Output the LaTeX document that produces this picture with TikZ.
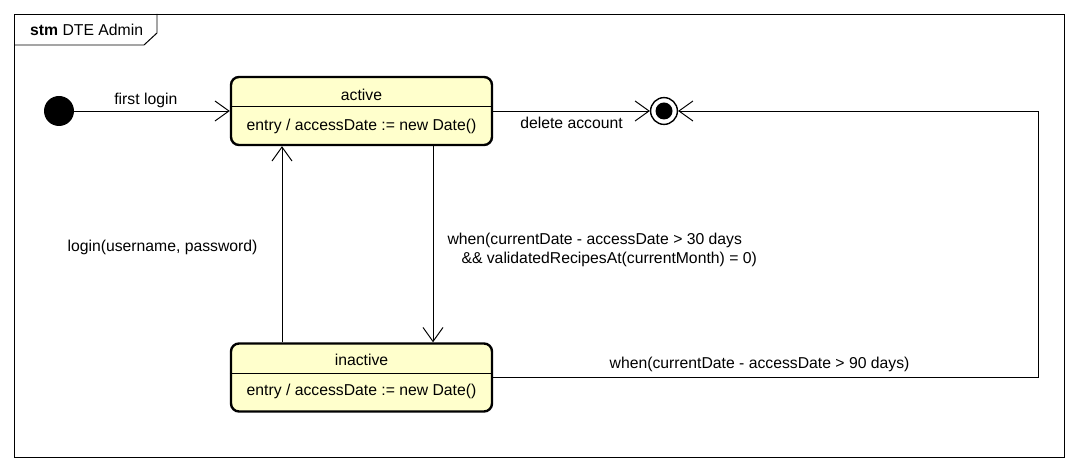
\documentclass[tikz,border=0pt]{standalone}
\usepackage{fontspec}
\setmainfont{Liberation Sans}
\usetikzlibrary{arrows.meta,shapes}
\definecolor{stateyellow}{RGB}{255,255,204}
\tikzstyle{statebox}=[draw,line width=1.7pt,rounded corners=0.2cm,fill=stateyellow,minimum width=6.525cm,minimum height=1.7cm]
\tikzstyle{initialstate}=[circle,fill=black,minimum size=0.75cm,inner sep=0pt]
\tikzstyle{finalstate}=[circle,draw,line width=1pt,minimum size=0.67cm,inner sep=0pt]
\tikzstyle{finaldot}=[circle,fill=black,minimum size=0.425cm,inner sep=0pt]
\tikzstyle{transition}=[-{Straight Barb[length=0.35cm,width=0.5cm]},line width=0.7pt]
\tikzstyle{divider}=[line width=0.7pt]
\tikzstyle{frameline}=[line width=0.7pt]
\tikzstyle{arclabel}=[midway,inner sep=2pt]

\begin{document}
\begin{tikzpicture}[font=\fontsize{11.2}{13.5}\selectfont]

\useasboundingbox (0,0) rectangle (26.925,11.75);

% frame
\draw[frameline] (0.35,0.325) rectangle (26.6,11.4);
\draw[frameline] (0.35,10.625) -- (3.6,10.625) -- (3.925,10.925) -- (3.925,11.4);
\node[anchor=west] (frametitle) at (0.63,11.0) {\textbf{stm} DTE Admin};

% states
\node[initialstate] (init) at (1.475,8.975) {};
\node[statebox] (active) at (9.0375,8.975) {};
\node[statebox] (inactive) at (9.0375,2.3125) {};
\node[finalstate] (final) at (16.6,8.975) {};
\node[finaldot] (finalcore) at (final) {};

\node (activename) at ([yshift=0.4cm]active.center) {active};
\node (activeentry) at ([yshift=-0.375cm]active.center) {entry / accessDate := new Date()};
\draw[divider] ([yshift=0.125cm]active.west) -- ([yshift=0.125cm]active.east);

\node (inactivename) at ([yshift=0.4375cm]inactive.center) {inactive};
\node (inactiveentry) at ([yshift=-0.3375cm]inactive.center) {entry / accessDate := new Date()};
\draw[divider] ([yshift=0.1125cm]inactive.west) -- ([yshift=0.1125cm]inactive.east);

\coordinate (CORNER1) at (25.95,2.3125);
\coordinate (CORNER2) at (25.95,8.975);

% transitions
\draw[transition] (init) -- (active) node[arclabel,pos=0.46,above]{first login};
\draw[transition] (active) -- (final) node[arclabel,below,yshift=-0.08cm]{delete account};
\draw[transition] ([xshift=1.7875cm]active.south) -- ([xshift=1.7875cm]inactive.north) node[arclabel,right,align=left,xshift=0.28cm,yshift=-0.15cm]{when(currentDate - accessDate > 30 days\\\hspace*{0.35cm}\&\& validatedRecipesAt(currentMonth) = 0)};
\draw[transition] ([xshift=-1.9875cm]inactive.north) -- ([xshift=-1.9875cm]active.south) node[arclabel,left,xshift=-0.53cm,yshift=-0.09cm]{login(username, password)};
\draw[transition] (inactive.east) -- (CORNER1) node[arclabel,above,xshift=-0.15cm,yshift=0.06cm]{when(currentDate - accessDate > 90 days)} -- (CORNER2) -- (final);

\end{tikzpicture}
\end{document}
